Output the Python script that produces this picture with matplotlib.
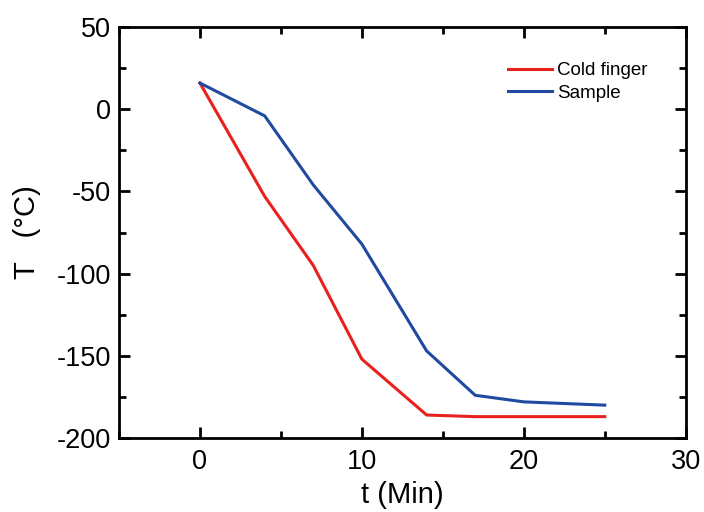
import matplotlib
matplotlib.use("Agg")
import matplotlib.pyplot as plt
from matplotlib.ticker import MultipleLocator

plt.rcParams['font.family'] = ['Liberation Sans', 'DejaVu Sans']
plt.rcParams['axes.unicode_minus'] = False

t_cold = [0, 4, 7, 10, 14, 17, 20, 25]
T_cold = [16, -53, -95, -152, -186, -187, -187, -187]
t_sample = [0, 4, 7, 10, 14, 17, 20, 25]
T_sample = [16, -4, -46, -82, -147, -174, -178, -180]

fig = plt.figure(figsize=(7.04, 5.12), dpi=100)
ax = fig.add_axes([0.169, 0.1445, 0.805, 0.8025])
ax.plot(t_cold, T_cold, color='#e8211f', lw=2.2, label='Cold finger')
ax.plot(t_sample, T_sample, color='#1f4aa0', lw=2.2, label='Sample')

ax.set_xlim(-5, 30)
ax.set_ylim(-200, 50)
ax.xaxis.set_major_locator(MultipleLocator(10))
ax.xaxis.set_minor_locator(MultipleLocator(5))
ax.yaxis.set_major_locator(MultipleLocator(50))
ax.yaxis.set_minor_locator(MultipleLocator(25))
ax.tick_params(which='both', direction='in', top=True, right=True, width=2)
ax.tick_params(which='major', length=8, labelsize=19.5)
ax.tick_params(axis='x', which='major', pad=8)
ax.tick_params(axis='y', which='major', pad=6)
ax.tick_params(which='minor', length=5)
for s in ax.spines.values():
    s.set_linewidth(2)

ax.set_xlabel('t (Min)', fontsize=21, labelpad=4)
ax.set_ylabel('T   (°C)', fontsize=21, labelpad=11)

leg = ax.legend(loc='upper left', bbox_to_anchor=(0.686, 0.915), frameon=False,
                fontsize=13.5, handlelength=2.35, handletextpad=0.3,
                labelspacing=0.3, borderaxespad=0, borderpad=0)

fig.savefig('out.png', dpi=100)
